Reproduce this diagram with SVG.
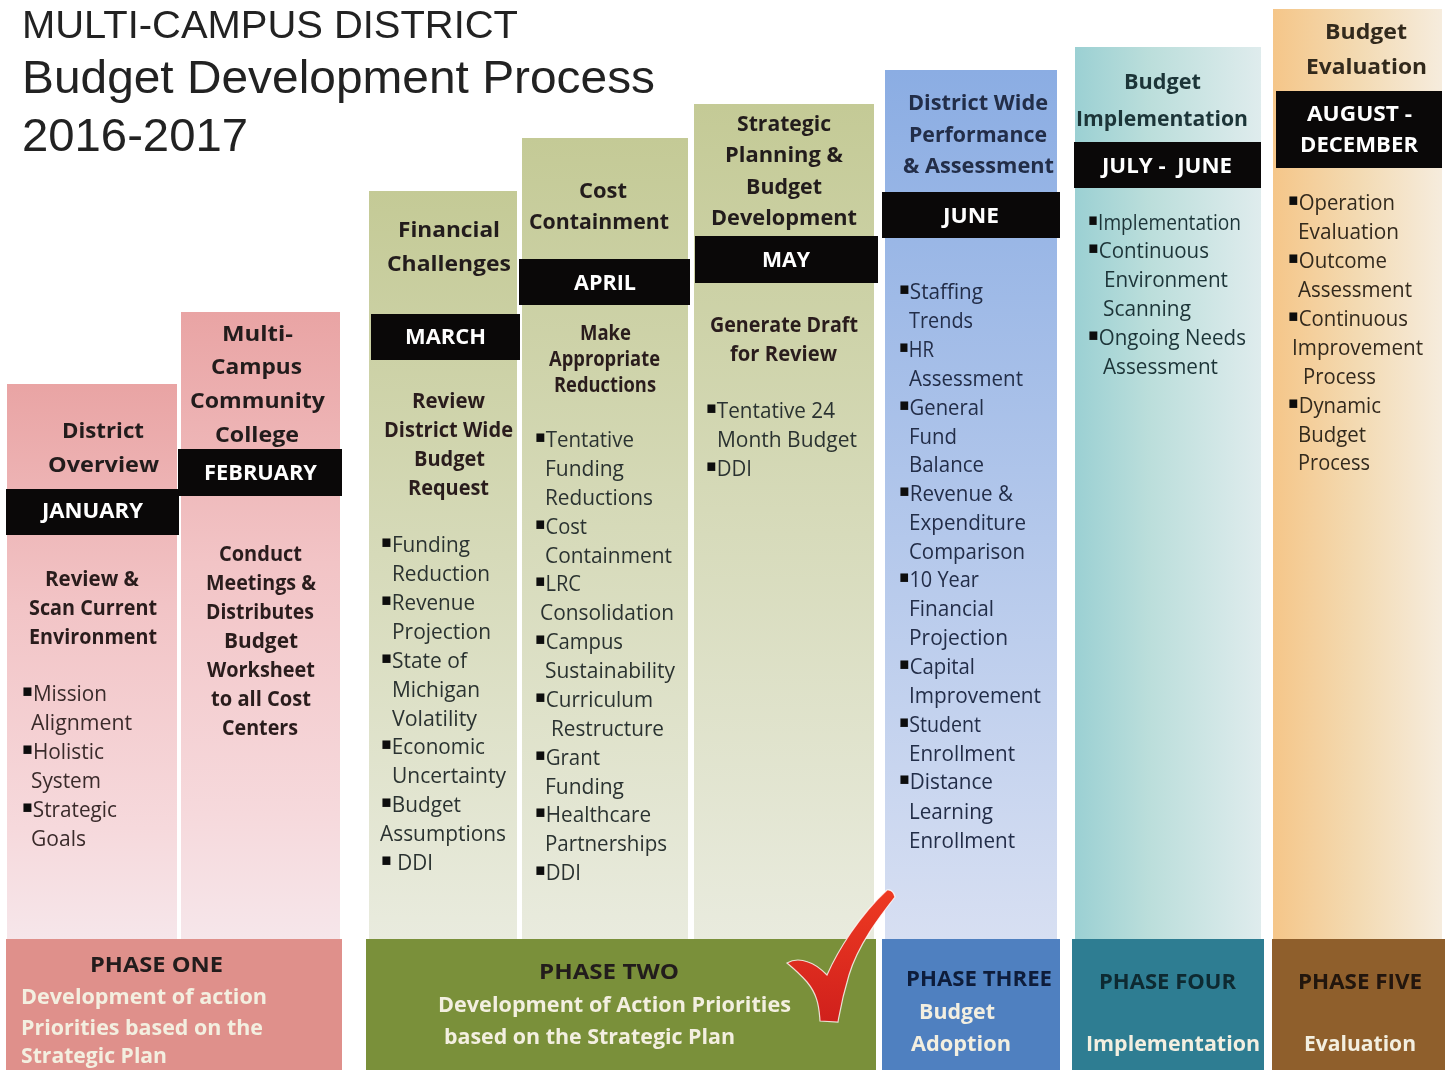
<svg xmlns="http://www.w3.org/2000/svg" width="1449" height="1070" viewBox="0 0 1449 1070">
<style>
text{font-family:"Open Sans","Noto Sans","Liberation Sans",sans-serif;font-size:22px;filter:url(#soft);transform:translateY(-.7px)}
.h{font-weight:700;fill:#241c1c}
.m{font-weight:700;fill:#fff}
.s{font-weight:700;fill:#2a1e1e;font-size:21px}
.b{font-weight:500;fill:#2b3330}
.k{font-family:"DejaVu Sans",sans-serif;font-size:17px;fill:#0c0c0c;baseline-shift:5px}
.w{font-weight:700;fill:#f3efe0}
.t{font-family:"Liberation Sans",Arial,sans-serif;fill:#222;transform:none}
.bar{fill:#0a0808}
#col1 .b,#col2 .b{fill:#3a2b2b}
#col6 .b,#col6 .h{fill:#232d48}
#col7 .b,#col7 .h{fill:#1d3438}
#col8 .b,#col8 .h{fill:#33291d}
</style>
<defs>
<filter id="soft" x="-5%" y="-20%" width="110%" height="140%"><feGaussianBlur stdDeviation="0.45"/></filter>
<linearGradient id="pink" x1="0" y1="0" x2="0" y2="1"><stop offset="0" stop-color="#e9a4a4"/><stop offset=".4" stop-color="#f2c4c6"/><stop offset=".8" stop-color="#f6d9dc"/><stop offset="1" stop-color="#f6e6ea"/></linearGradient>
<linearGradient id="olive" x1="0" y1="0" x2="0" y2="1"><stop offset="0" stop-color="#c4ca96"/><stop offset="1" stop-color="#e9ebde"/></linearGradient>
<linearGradient id="blue" x1="0" y1="0" x2="0" y2="1"><stop offset="0" stop-color="#8bade3"/><stop offset="1" stop-color="#d7dff2"/></linearGradient>
<linearGradient id="teal" x1="0" y1="0" x2="1" y2="0"><stop offset="0" stop-color="#9bd0d3"/><stop offset=".4" stop-color="#bbdedb"/><stop offset="1" stop-color="#dfeced"/></linearGradient>
<linearGradient id="orange" x1="0" y1="0" x2="1" y2="0"><stop offset="0" stop-color="#f5c689"/><stop offset=".5" stop-color="#f3dab2"/><stop offset="1" stop-color="#f6ecdd"/></linearGradient>
<linearGradient id="red" x1="0" y1="0" x2="0" y2="1"><stop offset="0" stop-color="#ee3a22"/><stop offset="1" stop-color="#d0201c"/></linearGradient>
</defs>
<rect width="1449" height="1070" fill="#fff"/>
<g id="title">
<text class="t" x="22" y="38" style="font-size:38px" textLength="496" lengthAdjust="spacingAndGlyphs">MULTI-CAMPUS DISTRICT</text>
<text class="t" x="22" y="93" style="font-size:47px" textLength="633" lengthAdjust="spacingAndGlyphs">Budget Development Process</text>
<text class="t" x="22" y="151" style="font-size:47px" textLength="226" lengthAdjust="spacingAndGlyphs">2016-2017</text>
</g>
<g id="col1">
<rect x="7" y="384" width="170" height="555" fill="url(#pink)"/>
<rect class="bar" x="6" y="489" width="173" height="46"/>
<text class="h" x="62" y="439" textLength="82" lengthAdjust="spacingAndGlyphs">District</text>
<text class="h" x="48" y="473" textLength="111" lengthAdjust="spacingAndGlyphs">Overview</text>
<text class="m" x="42" y="519" textLength="101" lengthAdjust="spacingAndGlyphs">JANUARY</text>
<text class="s" x="45" y="587" textLength="94" lengthAdjust="spacingAndGlyphs">Review &amp;</text>
<text class="s" x="29" y="616" textLength="128" lengthAdjust="spacingAndGlyphs">Scan Current</text>
<text class="s" x="29" y="645" textLength="128" lengthAdjust="spacingAndGlyphs">Environment</text>
<text class="b" x="22" y="702" textLength="85" lengthAdjust="spacingAndGlyphs"><tspan class="k">▪</tspan>Mission</text>
<text class="b" x="31" y="731" textLength="101" lengthAdjust="spacingAndGlyphs">Alignment</text>
<text class="b" x="22" y="760" textLength="82" lengthAdjust="spacingAndGlyphs"><tspan class="k">▪</tspan>Holistic</text>
<text class="b" x="31" y="789" textLength="70" lengthAdjust="spacingAndGlyphs">System</text>
<text class="b" x="22" y="818" textLength="95" lengthAdjust="spacingAndGlyphs"><tspan class="k">▪</tspan>Strategic</text>
<text class="b" x="31" y="847" textLength="55" lengthAdjust="spacingAndGlyphs">Goals</text>
</g>
<g id="col2">
<rect x="181" y="312" width="159" height="627" fill="url(#pink)"/>
<rect class="bar" x="178" y="449" width="164" height="47"/>
<text class="h" x="222" y="342" textLength="71" lengthAdjust="spacingAndGlyphs">Multi-</text>
<text class="h" x="211" y="375" textLength="91" lengthAdjust="spacingAndGlyphs">Campus</text>
<text class="h" x="190" y="409" textLength="135" lengthAdjust="spacingAndGlyphs">Community</text>
<text class="h" x="215" y="443" textLength="84" lengthAdjust="spacingAndGlyphs">College</text>
<text class="m" x="204" y="481" textLength="113" lengthAdjust="spacingAndGlyphs">FEBRUARY</text>
<text class="s" x="219" y="562" textLength="83" lengthAdjust="spacingAndGlyphs">Conduct</text>
<text class="s" x="206" y="591" textLength="110" lengthAdjust="spacingAndGlyphs">Meetings &amp;</text>
<text class="s" x="206" y="620" textLength="108" lengthAdjust="spacingAndGlyphs">Distributes</text>
<text class="s" x="224" y="649" textLength="74" lengthAdjust="spacingAndGlyphs">Budget</text>
<text class="s" x="207" y="678" textLength="108" lengthAdjust="spacingAndGlyphs">Worksheet</text>
<text class="s" x="211" y="707" textLength="100" lengthAdjust="spacingAndGlyphs">to all Cost</text>
<text class="s" x="222" y="736" textLength="76" lengthAdjust="spacingAndGlyphs">Centers</text>
</g>
<g id="col3">
<rect x="369" y="191" width="148" height="748" fill="url(#olive)"/>
<rect class="bar" x="371" y="314" width="149" height="46"/>
<text class="h" x="398" y="238" textLength="102" lengthAdjust="spacingAndGlyphs">Financial</text>
<text class="h" x="387" y="272" textLength="124" lengthAdjust="spacingAndGlyphs">Challenges</text>
<text class="m" x="405" y="345" textLength="81" lengthAdjust="spacingAndGlyphs">MARCH</text>
<text class="s" x="412" y="409" textLength="73" lengthAdjust="spacingAndGlyphs">Review</text>
<text class="s" x="384" y="438" textLength="129" lengthAdjust="spacingAndGlyphs">District Wide</text>
<text class="s" x="414" y="467" textLength="71" lengthAdjust="spacingAndGlyphs">Budget</text>
<text class="s" x="408" y="496" textLength="81" lengthAdjust="spacingAndGlyphs">Request</text>
<text class="b" x="381" y="553" textLength="89" lengthAdjust="spacingAndGlyphs"><tspan class="k">▪</tspan>Funding</text>
<text class="b" x="392" y="582" textLength="98" lengthAdjust="spacingAndGlyphs">Reduction</text>
<text class="b" x="381" y="611" textLength="94" lengthAdjust="spacingAndGlyphs"><tspan class="k">▪</tspan>Revenue</text>
<text class="b" x="392" y="640" textLength="99" lengthAdjust="spacingAndGlyphs">Projection</text>
<text class="b" x="381" y="669" textLength="86" lengthAdjust="spacingAndGlyphs"><tspan class="k">▪</tspan>State of</text>
<text class="b" x="392" y="698" textLength="88" lengthAdjust="spacingAndGlyphs">Michigan</text>
<text class="b" x="392" y="727" textLength="85" lengthAdjust="spacingAndGlyphs">Volatility</text>
<text class="b" x="381" y="755" textLength="104" lengthAdjust="spacingAndGlyphs"><tspan class="k">▪</tspan>Economic</text>
<text class="b" x="392" y="784" textLength="114" lengthAdjust="spacingAndGlyphs">Uncertainty</text>
<text class="b" x="381" y="813" textLength="80" lengthAdjust="spacingAndGlyphs"><tspan class="k">▪</tspan>Budget</text>
<text class="b" x="380" y="842" textLength="126" lengthAdjust="spacingAndGlyphs">Assumptions</text>
<text class="b" x="381" y="871" textLength="52" lengthAdjust="spacingAndGlyphs"><tspan class="k">▪</tspan> DDI</text>
</g>
<g id="col4">
<rect x="522" y="138" width="166" height="801" fill="url(#olive)"/>
<rect class="bar" x="519" y="259" width="171" height="46"/>
<text class="h" x="579" y="199" textLength="48" lengthAdjust="spacingAndGlyphs">Cost</text>
<text class="h" x="529" y="230" textLength="140" lengthAdjust="spacingAndGlyphs">Containment</text>
<text class="m" x="574" y="291" textLength="62" lengthAdjust="spacingAndGlyphs">APRIL</text>
<text class="s" x="580" y="341" textLength="51" lengthAdjust="spacingAndGlyphs">Make</text>
<text class="s" x="549" y="367" textLength="111" lengthAdjust="spacingAndGlyphs">Appropriate</text>
<text class="s" x="554" y="393" textLength="102" lengthAdjust="spacingAndGlyphs">Reductions</text>
<text class="b" x="535" y="448" textLength="99" lengthAdjust="spacingAndGlyphs"><tspan class="k">▪</tspan>Tentative</text>
<text class="b" x="545" y="477" textLength="79" lengthAdjust="spacingAndGlyphs">Funding</text>
<text class="b" x="545" y="506" textLength="108" lengthAdjust="spacingAndGlyphs">Reductions</text>
<text class="b" x="535" y="535" textLength="52" lengthAdjust="spacingAndGlyphs"><tspan class="k">▪</tspan>Cost</text>
<text class="b" x="545" y="564" textLength="127" lengthAdjust="spacingAndGlyphs">Containment</text>
<text class="b" x="535" y="592" textLength="46" lengthAdjust="spacingAndGlyphs"><tspan class="k">▪</tspan>LRC</text>
<text class="b" x="540" y="621" textLength="134" lengthAdjust="spacingAndGlyphs">Consolidation</text>
<text class="b" x="535" y="650" textLength="88" lengthAdjust="spacingAndGlyphs"><tspan class="k">▪</tspan>Campus</text>
<text class="b" x="545" y="679" textLength="130" lengthAdjust="spacingAndGlyphs">Sustainability</text>
<text class="b" x="535" y="708" textLength="118" lengthAdjust="spacingAndGlyphs"><tspan class="k">▪</tspan>Curriculum</text>
<text class="b" x="551" y="737" textLength="113" lengthAdjust="spacingAndGlyphs">Restructure</text>
<text class="b" x="535" y="766" textLength="65" lengthAdjust="spacingAndGlyphs"><tspan class="k">▪</tspan>Grant</text>
<text class="b" x="545" y="795" textLength="79" lengthAdjust="spacingAndGlyphs">Funding</text>
<text class="b" x="535" y="823" textLength="116" lengthAdjust="spacingAndGlyphs"><tspan class="k">▪</tspan>Healthcare</text>
<text class="b" x="545" y="852" textLength="122" lengthAdjust="spacingAndGlyphs">Partnerships</text>
<text class="b" x="535" y="881" textLength="46" lengthAdjust="spacingAndGlyphs"><tspan class="k">▪</tspan>DDI</text>
</g>
<g id="col5">
<rect x="694" y="104" width="180" height="835" fill="url(#olive)"/>
<rect class="bar" x="695" y="236" width="183" height="47"/>
<text class="h" x="737" y="132" textLength="94" lengthAdjust="spacingAndGlyphs">Strategic</text>
<text class="h" x="725" y="163" textLength="118" lengthAdjust="spacingAndGlyphs">Planning &amp;</text>
<text class="h" x="746" y="195" textLength="76" lengthAdjust="spacingAndGlyphs">Budget</text>
<text class="h" x="711" y="226" textLength="146" lengthAdjust="spacingAndGlyphs">Development</text>
<text class="m" x="762" y="268" textLength="48" lengthAdjust="spacingAndGlyphs">MAY</text>
<text class="s" x="710" y="333" textLength="148" lengthAdjust="spacingAndGlyphs">Generate Draft</text>
<text class="s" x="730" y="362" textLength="107" lengthAdjust="spacingAndGlyphs">for Review</text>
<text class="b" x="706" y="419" textLength="129" lengthAdjust="spacingAndGlyphs"><tspan class="k">▪</tspan>Tentative 24</text>
<text class="b" x="717" y="448" textLength="140" lengthAdjust="spacingAndGlyphs">Month Budget</text>
<text class="b" x="706" y="477" textLength="46" lengthAdjust="spacingAndGlyphs"><tspan class="k">▪</tspan>DDI</text>
</g>
<g id="col6">
<rect x="885" y="70" width="172" height="869" fill="url(#blue)"/>
<rect class="bar" x="882" y="192" width="178" height="46"/>
<text class="h" x="908" y="111" textLength="140" lengthAdjust="spacingAndGlyphs">District Wide</text>
<text class="h" x="909" y="143" textLength="138" lengthAdjust="spacingAndGlyphs">Performance</text>
<text class="h" x="903" y="174" textLength="151" lengthAdjust="spacingAndGlyphs">&amp; Assessment</text>
<text class="m" x="943" y="224" textLength="56" lengthAdjust="spacingAndGlyphs">JUNE</text>
<text class="b" x="899" y="300" textLength="84" lengthAdjust="spacingAndGlyphs"><tspan class="k">▪</tspan>Staffing</text>
<text class="b" x="909" y="329" textLength="64" lengthAdjust="spacingAndGlyphs">Trends</text>
<text class="b" x="899" y="358" textLength="35" lengthAdjust="spacingAndGlyphs"><tspan class="k">▪</tspan>HR</text>
<text class="b" x="909" y="387" textLength="114" lengthAdjust="spacingAndGlyphs">Assessment</text>
<text class="b" x="899" y="416" textLength="85" lengthAdjust="spacingAndGlyphs"><tspan class="k">▪</tspan>General</text>
<text class="b" x="909" y="445" textLength="48" lengthAdjust="spacingAndGlyphs">Fund</text>
<text class="b" x="909" y="473" textLength="75" lengthAdjust="spacingAndGlyphs">Balance</text>
<text class="b" x="899" y="502" textLength="114" lengthAdjust="spacingAndGlyphs"><tspan class="k">▪</tspan>Revenue &amp;</text>
<text class="b" x="909" y="531" textLength="117" lengthAdjust="spacingAndGlyphs">Expenditure</text>
<text class="b" x="909" y="560" textLength="116" lengthAdjust="spacingAndGlyphs">Comparison</text>
<text class="b" x="899" y="588" textLength="80" lengthAdjust="spacingAndGlyphs"><tspan class="k">▪</tspan>10 Year</text>
<text class="b" x="909" y="617" textLength="85" lengthAdjust="spacingAndGlyphs">Financial</text>
<text class="b" x="909" y="646" textLength="99" lengthAdjust="spacingAndGlyphs">Projection</text>
<text class="b" x="899" y="675" textLength="76" lengthAdjust="spacingAndGlyphs"><tspan class="k">▪</tspan>Capital</text>
<text class="b" x="909" y="704" textLength="132" lengthAdjust="spacingAndGlyphs">Improvement</text>
<text class="b" x="899" y="733" textLength="82" lengthAdjust="spacingAndGlyphs"><tspan class="k">▪</tspan>Student</text>
<text class="b" x="909" y="762" textLength="106" lengthAdjust="spacingAndGlyphs">Enrollment</text>
<text class="b" x="899" y="790" textLength="94" lengthAdjust="spacingAndGlyphs"><tspan class="k">▪</tspan>Distance</text>
<text class="b" x="909" y="820" textLength="84" lengthAdjust="spacingAndGlyphs">Learning</text>
<text class="b" x="909" y="849" textLength="106" lengthAdjust="spacingAndGlyphs">Enrollment</text>
</g>
<g id="col7">
<rect x="1075" y="47" width="186" height="892" fill="url(#teal)"/>
<rect class="bar" x="1074" y="142" width="187" height="46"/>
<text class="h" x="1124" y="90" textLength="77" lengthAdjust="spacingAndGlyphs">Budget</text>
<text class="h" x="1076" y="127" textLength="172" lengthAdjust="spacingAndGlyphs">Implementation</text>
<text class="m" x="1102" y="174" textLength="130" lengthAdjust="spacingAndGlyphs" xml:space="preserve">JULY -  JUNE</text>
<text class="b" x="1088" y="231" textLength="153" lengthAdjust="spacingAndGlyphs"><tspan class="k">▪</tspan>Implementation</text>
<text class="b" x="1088" y="259" textLength="121" lengthAdjust="spacingAndGlyphs"><tspan class="k">▪</tspan>Continuous</text>
<text class="b" x="1104" y="288" textLength="124" lengthAdjust="spacingAndGlyphs">Environment</text>
<text class="b" x="1103" y="317" textLength="88" lengthAdjust="spacingAndGlyphs">Scanning</text>
<text class="b" x="1088" y="346" textLength="158" lengthAdjust="spacingAndGlyphs"><tspan class="k">▪</tspan>Ongoing Needs</text>
<text class="b" x="1103" y="375" textLength="115" lengthAdjust="spacingAndGlyphs">Assessment</text>
</g>
<g id="col8">
<rect x="1273" y="9" width="169" height="930" fill="url(#orange)"/>
<rect class="bar" x="1276" y="91" width="166" height="77"/>
<text class="h" x="1325" y="40" textLength="82" lengthAdjust="spacingAndGlyphs">Budget</text>
<text class="h" x="1306" y="75" textLength="121" lengthAdjust="spacingAndGlyphs">Evaluation</text>
<text class="m" x="1307" y="122" textLength="105" lengthAdjust="spacingAndGlyphs">AUGUST -</text>
<text class="m" x="1300" y="153" textLength="118" lengthAdjust="spacingAndGlyphs">DECEMBER</text>
<text class="b" x="1288" y="211" textLength="107" lengthAdjust="spacingAndGlyphs"><tspan class="k">▪</tspan>Operation</text>
<text class="b" x="1298" y="240" textLength="101" lengthAdjust="spacingAndGlyphs">Evaluation</text>
<text class="b" x="1288" y="269" textLength="99" lengthAdjust="spacingAndGlyphs"><tspan class="k">▪</tspan>Outcome</text>
<text class="b" x="1298" y="298" textLength="114" lengthAdjust="spacingAndGlyphs">Assessment</text>
<text class="b" x="1288" y="327" textLength="120" lengthAdjust="spacingAndGlyphs"><tspan class="k">▪</tspan>Continuous</text>
<text class="b" x="1292" y="356" textLength="131" lengthAdjust="spacingAndGlyphs">Improvement</text>
<text class="b" x="1303" y="385" textLength="73" lengthAdjust="spacingAndGlyphs">Process</text>
<text class="b" x="1288" y="414" textLength="93" lengthAdjust="spacingAndGlyphs"><tspan class="k">▪</tspan>Dynamic</text>
<text class="b" x="1298" y="443" textLength="68" lengthAdjust="spacingAndGlyphs">Budget</text>
<text class="b" x="1298" y="471" textLength="72" lengthAdjust="spacingAndGlyphs">Process</text>
</g>
<g id="phase1">
<rect x="6" y="939" width="336" height="131" fill="#df908b"/>
<text class="h" x="90" y="973" textLength="133" lengthAdjust="spacingAndGlyphs">PHASE ONE</text>
<text class="w" x="21" y="1005" textLength="246" lengthAdjust="spacingAndGlyphs">Development of action</text>
<text class="w" x="21" y="1036" textLength="242" lengthAdjust="spacingAndGlyphs">Priorities based on the</text>
<text class="w" x="21" y="1064" textLength="146" lengthAdjust="spacingAndGlyphs">Strategic Plan</text>
</g>
<g id="phase2">
<rect x="366" y="939" width="510" height="131" fill="#7a903a"/>
<text class="h" x="539" y="980" textLength="140" lengthAdjust="spacingAndGlyphs">PHASE TWO</text>
<text class="w" x="438" y="1013" textLength="353" lengthAdjust="spacingAndGlyphs">Development of Action Priorities</text>
<text class="w" x="444" y="1045" textLength="291" lengthAdjust="spacingAndGlyphs">based on the Strategic Plan</text>
</g>
<g id="phase3">
<rect x="882" y="939" width="178" height="131" fill="#4f80c0"/>
<text class="h" x="906" y="987" textLength="146" lengthAdjust="spacingAndGlyphs" style="fill:#0f1f3a">PHASE THREE</text>
<text class="w" x="919" y="1020" textLength="76" lengthAdjust="spacingAndGlyphs">Budget</text>
<text class="w" x="911" y="1052" textLength="100" lengthAdjust="spacingAndGlyphs">Adoption</text>
</g>
<g id="phase4">
<rect x="1072" y="939" width="192" height="131" fill="#2e7d92"/>
<text class="h" x="1099" y="990" textLength="137" lengthAdjust="spacingAndGlyphs" style="fill:#0f2a30">PHASE FOUR</text>
<text class="w" x="1086" y="1052" textLength="174" lengthAdjust="spacingAndGlyphs">Implementation</text>
</g>
<g id="phase5">
<rect x="1272" y="939" width="173" height="131" fill="#8f5f2c"/>
<text class="h" x="1298" y="990" textLength="124" lengthAdjust="spacingAndGlyphs" style="fill:#20140a">PHASE FIVE</text>
<text class="w" x="1304" y="1052" textLength="112" lengthAdjust="spacingAndGlyphs">Evaluation</text>
</g>
<g id="checkmark">
<path d="M887 890Q893 889 895 897C880 916 858 945 849 975C843 995 840 1010 838 1022L820 1021C819 1003 816 993 807 982C800 974 793 968 787 963C792 960 800 959 808 962C815 964 822 970 827 975C838 950 860 915 887 890Z" fill="url(#red)" stroke="#fff" stroke-opacity=".8" stroke-width="1.2"/>
</g>
</svg>
